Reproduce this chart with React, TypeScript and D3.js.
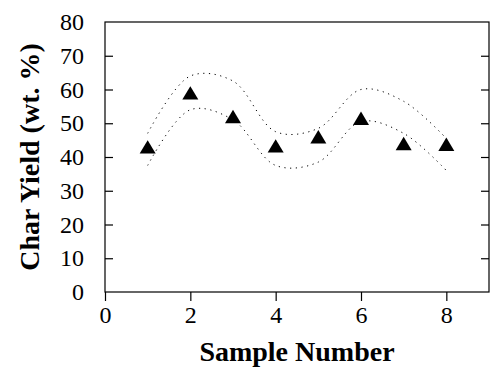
import React, { useEffect, useRef } from "react";
import * as d3 from "d3";

const samples = [1, 2, 3, 4, 5, 6, 7, 8];
const charYield = [43, 59, 52, 43.3, 46, 51.5, 44, 43.8];
const upperBound = [47, 64, 62.5, 47.5, 48.5, 60, 56.5, 45.5];
const lowerBound = [37.5, 54, 51, 37.5, 38.5, 50.5, 47, 36];
const xTicks = [0, 2, 4, 6, 8];
const yTicks = [0, 10, 20, 30, 40, 50, 60, 70, 80];

const serif = "'Liberation Serif', 'Times New Roman', serif";

// filled triangle, centred on its bounding box (like the spreadsheet marker)
const boxTriangle = {
  draw(ctx: any, size: number) {
    const hw = Math.sqrt(size) / 2;
    const hh = hw * 0.84;
    ctx.moveTo(0, -hh);
    ctx.lineTo(hw, hh);
    ctx.lineTo(-hw, hh);
    ctx.closePath();
  },
};

const App = () => {
  const svgRef = useRef<SVGSVGElement>(null);

  useEffect(() => {
    const width = 503;
    const height = 370;
    const margin = { top: 22, right: 14, bottom: 78, left: 105 };
    const w = width - margin.left - margin.right;
    const h = height - margin.top - margin.bottom;

    const svg = d3.select(svgRef.current);
    svg.selectAll("*").remove();

    const chart = svg
      .append("g")
      .attr("transform", `translate(${margin.left},${margin.top})`);

    const x = d3.scaleLinear().domain([0, 9]).range([0, w]);
    const y = d3.scaleLinear().domain([0, 80]).range([h, 0]);

    // frame
    chart.append("rect")
      .attr("x", 0)
      .attr("y", 0)
      .attr("width", w)
      .attr("height", h)
      .attr("fill", "none")
      .attr("stroke", "black")
      .attr("stroke-width", 1.2);

    // left axis, ticks inward
    const left = chart.append("g")
      .call(d3.axisLeft(y).tickValues(yTicks).tickSize(-8).tickPadding(21));
    left.select(".domain").remove();
    left.selectAll("line").filter((d) => d === 0 || d === 80).remove();

    // right axis, ticks inward, no labels
    const right = chart.append("g")
      .attr("transform", `translate(${w},0)`)
      .call(d3.axisRight(y).tickValues(yTicks.slice(1, -1)).tickSize(-8).tickFormat(() => ""));
    right.select(".domain").remove();

    // bottom axis, ticks outward
    const bottom = chart.append("g")
      .attr("transform", `translate(0,${h})`)
      .call(d3.axisBottom(x).tickValues(xTicks).tickSize(9).tickPadding(5));
    bottom.select(".domain").remove();

    [left, right, bottom].forEach((g) => {
      g.attr("font-family", serif).attr("font-size", 24);
      g.selectAll("line").attr("stroke-width", 1.2);
      g.selectAll("text")
        .style("font-family", serif)
        .style("font-size", "24px")
        .attr("fill", "black");
    });

    // dotted bounds
    const line = d3.line<number>()
      .x((d, i) => x(samples[i]))
      .y((d) => y(d))
      .curve(d3.curveCatmullRom);

    [upperBound, lowerBound].forEach((series) => {
      chart.append("path")
        .datum(series)
        .attr("d", line)
        .attr("fill", "none")
        .attr("stroke", "black")
        .attr("stroke-width", 1)
        .attr("stroke-dasharray", "1.2,4.5");
    });

    // triangle markers
    const tri = d3.symbol().type(boxTriangle as any).size(256);
    chart.selectAll(".pt")
      .data(charYield)
      .enter()
      .append("path")
      .attr("class", "pt")
      .attr("d", tri)
      .attr("transform", (d, i) => `translate(${x(samples[i])},${y(d)})`)
      .attr("fill", "black");

    // axis titles
    svg.append("text")
      .attr("x", margin.left + w / 2)
      .attr("y", 361)
      .attr("text-anchor", "middle")
      .style("font-family", serif)
      .attr("font-weight", "bold")
      .attr("font-size", 28)
      .text("Sample Number");

    svg.append("text")
      .attr("transform", `translate(39,${margin.top + h / 2}) rotate(-90)`)
      .attr("text-anchor", "middle")
      .style("font-family", serif)
      .attr("font-weight", "bold")
      .attr("font-size", 28)
      .text("Char Yield (wt. %)");
  }, []);

  return (
    <svg
      ref={svgRef}
      width={503}
      height={370}
      style={{ position: "absolute", left: 0, top: 0, background: "white" }}
    ></svg>
  );
};

export default App;
